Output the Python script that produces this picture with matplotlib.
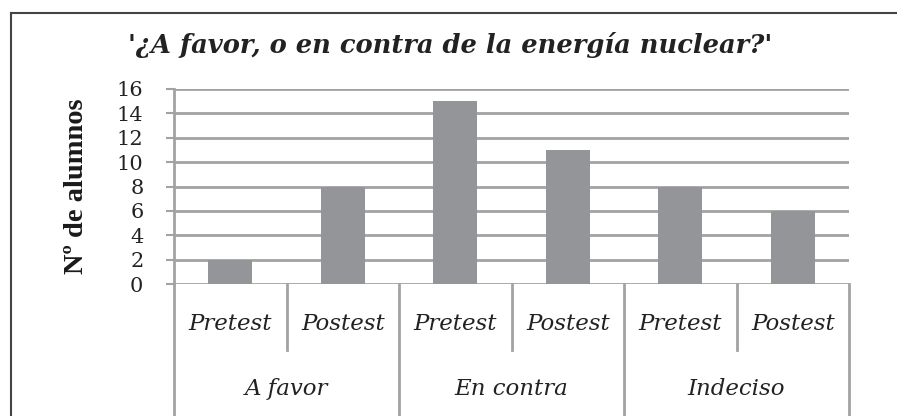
import matplotlib.pyplot as plt
from matplotlib.transforms import blended_transform_factory
from matplotlib.lines import Line2D

# datos del grafico
grupos = ['A favor', 'En contra', 'Indeciso']
pruebas = ['Pretest', 'Postest']
alumnos = [2, 8, 15, 11, 8, 6]

W, H = 897, 416
fig = plt.figure(figsize=(W / 100, H / 100), dpi=100)

# area del grafico (en pixeles de la imagen)
x0, x1, ytop, ybot = 174, 849, 89, 284
ax = fig.add_axes([x0 / W, 1 - ybot / H, (x1 - x0) / W, (ybot - ytop) / H])

gris_rejilla = '#a2a2a4'
gris_barra = '#939598'

posiciones = list(range(len(alumnos)))
ax.bar(posiciones, alumnos, width=0.39, color=gris_barra, zorder=3)
ax.set_xlim(-0.5, len(alumnos) - 0.5)
ax.set_ylim(0, 16)
ax.set_yticks(range(0, 17, 2))
ax.yaxis.grid(True, color=gris_rejilla, linewidth=2, zorder=0)
ax.set_axisbelow(True)
ax.set_xticks([])
for lado in ['top', 'right', 'bottom']:
    ax.spines[lado].set_visible(False)
ax.spines['left'].set_color(gris_rejilla)
ax.spines['left'].set_linewidth(2)
ax.tick_params(axis='y', length=6, width=1.5, color=gris_rejilla, pad=16,
               labelsize=15, labelcolor='#222222')
for t in ax.get_yticklabels():
    t.set_fontfamily('DejaVu Serif')

ax.set_ylabel('Nº de alumnos', fontsize=20.5, fontweight='bold',
              family='Liberation Serif', labelpad=20, color='#1a1a1a')

# eje de categorias de dos niveles
tr = blended_transform_factory(ax.transData, fig.transFigure)
y_cero = 1 - ybot / H
y_interno = 1 - 350 / H
for i in range(len(alumnos) + 1):
    xs = i - 0.5
    fin = 0 if i % 2 == 0 else y_interno
    fig.add_artist(Line2D([xs, xs], [y_cero, fin], transform=tr,
                          color=gris_rejilla, linewidth=2))
for i, v in enumerate(alumnos):
    fig.text(i, 1 - 324 / H, pruebas[i % 2], transform=tr, ha='center',
             va='center', fontsize=16.5, style='italic',
             family='DejaVu Serif', color='#222222')
for j, g in enumerate(grupos):
    fig.text(2 * j + 0.5, 1 - 389 / H, g, transform=tr, ha='center',
             va='center', fontsize=16.5, style='italic',
             family='DejaVu Serif', color='#222222')

# titulo
fig.text(450 / W, 1 - 45 / H, "'¿A favor, o en contra de la energía nuclear?'",
         ha='center', va='center', fontsize=18.5, fontweight='bold',
         style='italic', family='DejaVu Serif', color='#222222')

# marco exterior
fig.add_artist(Line2D([11 / W, 11 / W], [0, 1 - 13 / H], color='#444444',
                      linewidth=1.5))
fig.add_artist(Line2D([11 / W, 1], [1 - 13 / H, 1 - 13 / H], color='#444444',
                      linewidth=1.5))

fig.savefig('out.png', dpi=100, facecolor='white')
